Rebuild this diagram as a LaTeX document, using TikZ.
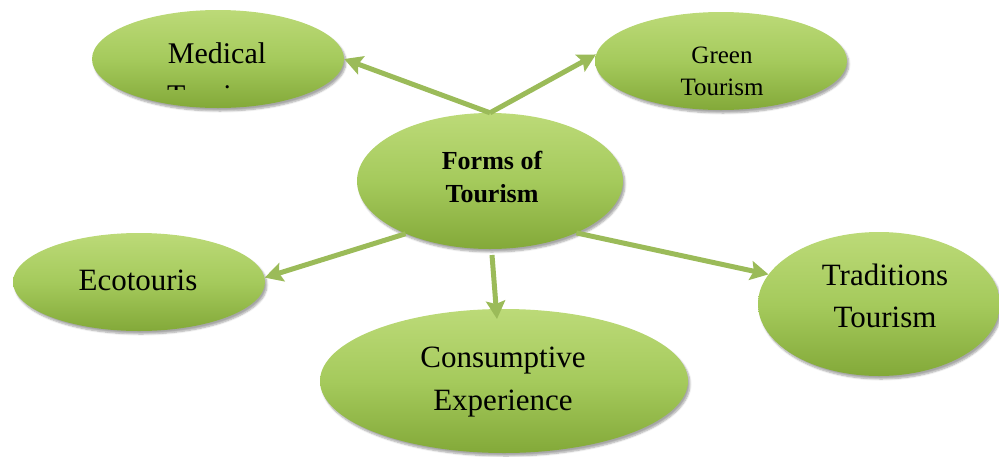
\documentclass[tikz,border=0pt]{standalone}
\usepackage{fontspec}
\setmainfont{Liberation Serif}
\usetikzlibrary{shapes.geometric,arrows.meta,shadows.blur,calc}

\definecolor{leafTop}{HTML}{BCDA78}
\definecolor{leafMid}{HTML}{A5CA5C}
\definecolor{leafBot}{HTML}{83A939}
\definecolor{linkGreen}{HTML}{9BBB59}

\tikzset{
  bubble/.style={ellipse, inner sep=0pt, draw=none,
    top color=leafTop, bottom color=leafBot, middle color=leafMid,
    blur shadow={shadow xshift=2pt, shadow yshift=-3pt,
                 shadow opacity=35, shadow blur steps=6}},
  txt/.style={anchor=base, inner sep=0pt},
  big/.style={font=\fontsize{31}{31}\selectfont},
  link/.style={draw=linkGreen, line width=5pt,
    -{Stealth[length=18pt,width=19pt,inset=3pt]}},
}

\begin{document}
\begin{tikzpicture}[x=1pt,y=-1pt]
  \useasboundingbox (0,0) rectangle (999,456);

  % ellipses
  \node[bubble, minimum width=252pt, minimum height=98pt]  (med)  at (218,59)  {};
  \node[bubble, minimum width=252pt, minimum height=98pt]  (grn)  at (721,61)  {};
  \node[bubble, minimum width=266pt, minimum height=136pt] (ctr)  at (490,181) {};
  \node[bubble, minimum width=252pt, minimum height=98pt]  (eco)  at (139,282) {};
  \node[bubble, minimum width=368pt, minimum height=144pt] (cons) at (504,381) {};
  \node[bubble, minimum width=242pt, minimum height=144pt] (trad) at (879,304) {};

  % labels
  \node[txt, font=\fontsize{30}{30}\selectfont] (medA) at (217,63) {Medical};
  \begin{scope}
    \clip (100,70) rectangle (340,89);
    \node[txt, font=\fontsize{30}{30}\selectfont] (medB) at (217,105) {Tourism};
  \end{scope}

  \node[txt, font=\fontsize{25}{25}\selectfont] (grnA) at (722,63) {Green};
  \node[txt, font=\fontsize{25}{25}\selectfont] (grnB) at (722,95) {Tourism};

  \node[txt, font=\fontsize{26}{26}\selectfont\bfseries] (ctrA) at (492,169) {Forms of};
  \node[txt, font=\fontsize{26}{26}\selectfont\bfseries] (ctrB) at (492,202) {Tourism};

  \node[txt, big] (ecoA) at (138,290) {Ecotouris};

  \node[txt, big] (consA) at (503,367) {Consumptive};
  \node[txt, big] (consB) at (503,410) {Experience};

  \node[txt, big] (tradA) at (885,285) {Traditions};
  \node[txt, big] (tradB) at (885,327) {Tourism};

  % connectors
  \coordinate (downTop) at (492,255);
  \coordinate (downEnd) at (497,319);
  \draw[link] (ctr.north) -- (med.east);
  \draw[link] (ctr.north) -- (grn.177);
  \draw[link] (ctr.212) -- (eco.2);
  \draw[link] (downTop) -- (downEnd);
  \draw[link] (ctr.-31) -- (trad.165);
\end{tikzpicture}
\end{document}
